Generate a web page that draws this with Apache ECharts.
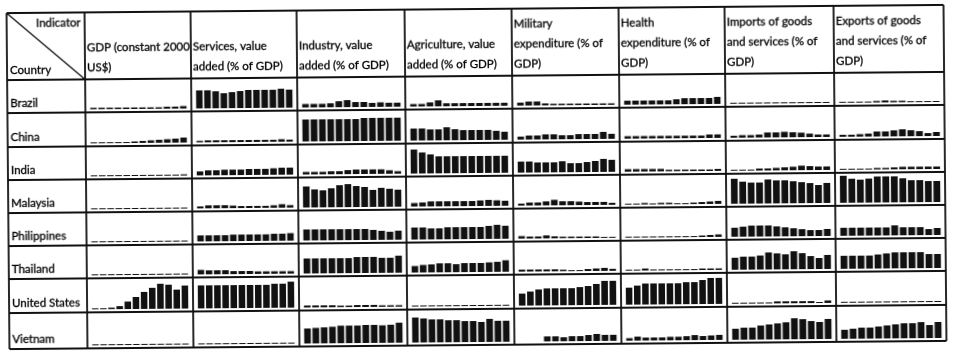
<!DOCTYPE html>
<html>
<head>
<meta charset="utf-8">
<script src="https://cdn.jsdelivr.net/npm/echarts@6/dist/echarts.min.js"></script>
<style>
html,body{margin:0;padding:0;background:#fff;overflow:hidden;}
#chart{width:954px;height:357px;transform:rotate(-0.5deg);transform-origin:477px 178px;}
</style>
</head>
<body>
<div id="chart"></div>
<script>
// ---- data (bar heights, per indicator, 12 years per country) ----
const countries = ["Brazil","China","India","Malaysia","Philippines","Thailand","United States","Vietnam"];
const indicators = [
  "GDP (constant 2000\nUS$)",
  "Services, value\nadded (% of GDP)",
  "Industry, value\nadded (% of GDP)",
  "Agriculture, value\nadded (% of GDP)",
  "Military\nexpenditure (% of\nGDP)",
  "Health\nexpenditure (% of\nGDP)",
  "Imports of goods\nand services (% of\nGDP)",
  "Exports of goods\nand services (% of\nGDP)"
];
const gdp = [
  [1.5,1.5,1.5,1.5,1.5,1.5,1.5,1.5,1.5,2,2,2.5],
  [1,1,1,1,1,1.5,2,2.5,3,3.5,4,5],
  [1,1,1,1,1,1,1,1,1,1,1,1.2],
  [1,1,1,1,1,1,1,1,1,1,1,1],
  [1,1,1,1,1,1,1,1,1,1,1,1],
  [1,1,1,1,1,1,1,1,1,1,1,1],
  [1,1,1.5,3,7.5,12,17,21,25,24,19,23],
  [1,1,1,1,1,1,1,1,1,1,1,1]
];
const services = [
  [18,18,17,15,16,17,18,18,18,18,19,18],
  [1.5,2,2,2,2,2,2,2,2,2,2.5,2],
  [4,5,5,5.5,5.5,5.5,6,6,6,6.5,7,7],
  [2,3,3,3,2.5,2,2,2,2,2.5,3.5,2.5],
  [6,6,6,6,6.5,6.5,6.5,6.5,6.5,7,7,7.5],
  [4.5,4,4,4,3,3,3,2.5,2.5,2.5,2.5,2.5],
  [23,23,23,23,23,23,23,23,23,24,24,26],
  [1,1,1,1,1,1,1,1,1,1,1,1]
];
const industry = [
  [3.5,3.5,3.5,4,6,7,5,5,4,4.5,4,4],
  [22,22,22,22,22,22,22,23,23,23,23,23],
  [2.5,2.5,2.5,3,3,4,4.5,4.5,4.5,4.5,3.5,2.5],
  [21,18,17,19,22,23,21,20,17,19,18,17],
  [11,11,11,11,11,11,11,11,10,9,8,9],
  [15,15,15,15,15,15,16,16,16,15,15,17],
  [2,2,2,2,1.5,1.5,2,2,2,1.5,1.5,1.5],
  [15,15.5,16,16.5,17.5,17.5,17.5,18,18,17.5,18,20]
];
const agriculture = [
  [2.5,2.5,4,6,3,3,3,3,3,3,3,3],
  [12,12,11,11,13,11,10,10,10,10,9,8],
  [24,21,19,17,17,17,17,17,17,17,17,17],
  [3.5,4,5,5,5,5,5,5,5.5,6,5.5,5],
  [12,12,11,11,12,12,12,12,12,13,14,13],
  [6.5,7.5,8,9,9,8,9,9,9,9.5,10,11.5],
  [1,1,1,1,1,1,1,1,1,1,1,1],
  [25,24,23,23,22,22,21,21,20,23,21,21]
];
const military = [
  [3,4,4,2,1.5,1.5,1.5,1.5,1.5,1.5,1.5,1.5],
  [3,4,4,5,5,4,4,5,5,5,7,5],
  [11,11,10,10,10,11,9,9,10,11,13,12],
  [2,3,3,4,5.5,4,4,3.5,3,3,3,2],
  [2.5,2,2,3,2,1.5,1.5,1.5,1.5,1.5,1,1],
  [2,2,2,2,2,1.5,1,1,2,2.5,3,2],
  [12,14,16,17,17,17,17,18,19,21,24,24],
  [null,null,null,5,5,4,5,5,6,7,6,6]
];
const health = [
  [4,4,4,4,4,4,5,6,6,6,6,7],
  [2.5,2.5,2.5,2.5,2.5,2.5,2.5,2.5,2.5,2.5,3.5,3.5],
  [2.5,2.5,2.5,2.5,2.5,1.5,1.5,1.5,1.5,1.5,1.5,2],
  [1,1,1.5,1,1.5,1.5,1,1,1.5,2,2.5,3],
  [1,1,1,1,1,1,1,1,1,1.5,2,2.5],
  [1,1,2,1,1,1,1,1,1,1.5,1.5,1.5],
  [17,19,21,21,21,21,21,22,22,24,26,26],
  [2.5,4,3,3,3,3.5,3.5,4,5,4,4.5,5]
];
const imports = [
  [1,1,1,1,1,1,1,1,1,1,1,1],
  [2,2.5,2.5,3,5,5,5.5,5,4.5,3.5,2.5,2.5],
  [1,1,1,2,2,2.5,3,3.5,4.5,4,3.5,3.5],
  [25,22,21,21,24,23,23,22,21,20,18,20],
  [9,10,11,11,11,10,9,8,7,6,6,7],
  [12,13,13,14,17,16,15,18,16,13,11,14],
  [1,1,1,1,1,2,2,2,2,2,1,2.5],
  [11,12,12,14,15,16,17,21,20,18,17,20]
];
const exportsData = [
  [1,1,1,1,1.5,2,1.5,1.5,1,1,1,1],
  [2,2,2.5,3,5,5,6,7,6,5,3,4],
  [1,1,1,1,1.5,1.5,2,2.5,2.5,2.5,2.5,2.5],
  [27,24,23,24,26,26,26,24,22,22,21,21],
  [8,8,8,8,8,8,10,8,8,8,6,7],
  [13,13,13,13,14,15,16,16,16,16,14,14],
  [1,1,1,1,1,1,1,1,1,1,1,1],
  [9,10,11,11,12,13,14,15,15,16,13,16]
];
const years = ["1","2","3","4","5","6","7","8","9","10","11","12"];
const columnsData = [gdp, services, industry, agriculture, military, health, imports, exportsData];

// ---- layout ----
const colEdges = [8, 86, 192, 298, 406, 513, 620, 726, 835, 945];
const rowEdges = [9, 76, 109, 143, 176, 209, 242, 275, 309, 345];
const cellMax = 28;
const lineColor = '#111';
const font = 'Lato';

const grids = [], xAxes = [], yAxes = [], series = [], graphics = [];
let k = 0;
for (let r = 0; r < countries.length; r++) {
  for (let c = 0; c < indicators.length; c++) {
    const bottomY = rowEdges[r + 2] - 3;
    grids.push({left: colEdges[c + 1] + 4, width: colEdges[c + 2] - colEdges[c + 1] - 8,
                top: bottomY - cellMax, height: cellMax});
    xAxes.push({type: 'category', gridIndex: k, data: years, show: false, boundaryGap: true});
    yAxes.push({type: 'value', gridIndex: k, min: 0, max: cellMax, show: false});
    series.push({type: 'bar', xAxisIndex: k, yAxisIndex: k, data: columnsData[c][r],
                 barCategoryGap: '20%', itemStyle: {color: '#111'}, silent: true});
    k++;
  }
}

function line(x1, y1, x2, y2, w) {
  graphics.push({type: 'line', silent: true, shape: {x1, y1, x2, y2},
                 style: {stroke: lineColor, lineWidth: w || 1.8}});
}
function text(str, x, y, align, valign) {
  graphics.push({type: 'text', silent: true, x, y,
    style: {text: str, fill: '#000', stroke: '#000', lineWidth: 0.3,
            fontSize: 11.5, fontFamily: font, lineHeight: 20,
            align, verticalAlign: valign, textAlign: align, textVerticalAlign: valign}});
}
const L = colEdges[0], R = colEdges[colEdges.length - 1];
const T = rowEdges[0], B = rowEdges[rowEdges.length - 1];
rowEdges.forEach(y => line(L, y, R, y));
colEdges.forEach(x => line(x, T, x, B));
line(L, T, colEdges[1], rowEdges[1], 1.3);
text('Indicator', colEdges[1] - 4, T + 10, 'right', 'middle');
text('Country', L + 3, rowEdges[1] - 10, 'left', 'middle');
indicators.forEach((s, i) => text(s, colEdges[i + 1] + 2, rowEdges[1] - 2, 'left', 'bottom'));
countries.forEach((s, i) => text(s, L + 3, rowEdges[i + 2] - 10, 'left', 'middle'));

const chart = echarts.init(document.getElementById('chart'), null, {renderer: 'canvas'});
chart.setOption({
  animation: false,
  grid: grids, xAxis: xAxes, yAxis: yAxes, series,
  graphic: {elements: graphics}
});
</script>
</body>
</html>
